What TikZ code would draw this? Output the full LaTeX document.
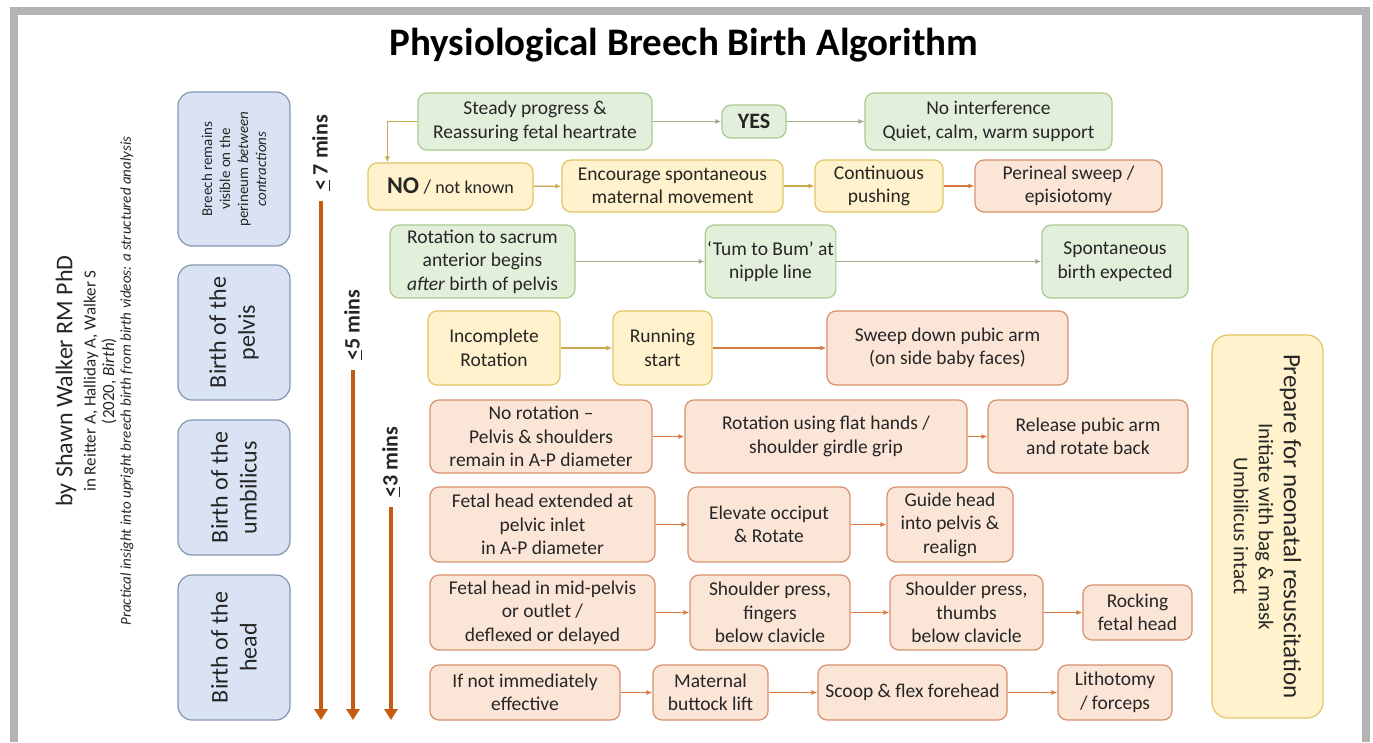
\documentclass[tikz,border=0pt]{standalone}
\usepackage{fontspec}
\setmainfont{Carlito}
\usetikzlibrary{arrows.meta}

\definecolor{txt}{HTML}{262626}
\definecolor{framecol}{HTML}{B3B3B3}
\definecolor{grnfill}{HTML}{E2EFDA}
\definecolor{grnline}{HTML}{A9CC8E}
\definecolor{ylwfill}{HTML}{FFF2CC}
\definecolor{ylwline}{HTML}{E3C466}
\definecolor{salfill}{HTML}{FBE5D6}
\definecolor{salline}{HTML}{D9906C}
\definecolor{blufill}{HTML}{DAE3F3}
\definecolor{bluline}{HTML}{8497B0}
\definecolor{grnarr}{HTML}{9DAF8A}
\definecolor{ylwarr}{HTML}{C9A94E}
\definecolor{salarr}{HTML}{D8793F}
\definecolor{timecol}{HTML}{C55A11}

\begin{document}
\begin{tikzpicture}[x=1pt,y=-1pt,
  box/.style={rectangle, rounded corners=9pt, draw, line width=1.2pt, inner sep=2pt, align=center, text=txt, font=\fontsize{19.5}{23.5}\selectfont},
  grn/.style={box, fill=grnfill, draw=grnline},
  ylw/.style={box, fill=ylwfill, draw=ylwline},
  sal/.style={box, fill=salfill, draw=salline},
  stage/.style={box, fill=blufill, draw=bluline, rotate=90, rounded corners=14pt, minimum height=112, font=\fontsize{24}{29}\selectfont},
  tlab/.style={rotate=90, text=txt, font=\fontsize{22}{26}\selectfont\bfseries},
  ga/.style={draw=grnarr, line width=1.2pt, -{Latex[length=6pt,width=5pt]}},
  ya/.style={draw=ylwarr, line width=1.2pt, -{Latex[length=6pt,width=5pt]}},
  sa/.style={draw=salarr, line width=1.2pt, -{Latex[length=6pt,width=5pt]}},
  tarr/.style={draw=timecol, line width=4pt, -{Triangle[length=11pt,width=13pt]}}]

  \useasboundingbox (0,0) rectangle (1373,742);
  \fill[white] (0,0) rectangle (1373,742);
  \draw[framecol, line width=8pt] (14,742) -- (14,11) -- (1366,11) -- (1366,742);

  \node[text=black, font=\fontsize{39}{45}\selectfont\bfseries] (title) at (684,45) {Physiological Breech Birth Algorithm};

  % author
  \node[rotate=90, text=txt, font=\fontsize{24}{28}\selectfont] (au1) at (66,381) {by Shawn Walker RM PhD};
  \node[rotate=90, text=txt, font=\fontsize{17}{20}\selectfont] (au2) at (91,381) {in Reitter A, Halliday A, Walker S};
  \node[rotate=90, text=txt, font=\fontsize{17}{20}\selectfont] (au3) at (109,381) {(2020, \textit{Birth})};
  \node[rotate=90, text=txt, font=\fontsize{15}{18}\selectfont\itshape] (au4) at (127,381) {Practical insight into upright breech birth from birth videos: a structured analysis};

  % stages
  \node[stage, minimum width=154, font=\fontsize{15}{18}\selectfont] (s1) at (234,169) {Breech remains\\visible on the\\perineum \textit{between}\\\textit{contractions}};
  \node[stage, minimum width=135] (s2) at (234,332.5) {Birth of the\\pelvis};
  \node[stage, minimum width=135] (s3) at (234,487.5) {Birth of the\\umbilicus};
  \node[stage, minimum width=145] (s4) at (234,647.5) {Birth of the\\head};

  % time limits
  \node[tlab] (t7) at (321,153) {\underline{<} 7 mins};
  \node[tlab] (t5) at (353,325) {\underline{<}5 mins};
  \node[tlab] (t3) at (391,462) {\underline{<}3 mins};
  \coordinate (e7) at (321,720);
  \coordinate (e5) at (353,720);
  \coordinate (e3) at (391,720);
  \draw[tarr] ([yshift=-6pt]t7.west) -- (e7);
  \draw[tarr] ([yshift=-6pt]t5.west) -- (e5);
  \draw[tarr] ([yshift=-6pt]t3.west) -- (e3);

  % row 1
  \node[grn, minimum width=234, minimum height=57] (steady) at (535,121.5) {Steady progress \&\\Reassuring fetal heartrate};
  \node[grn, minimum width=64, minimum height=33, font=\fontsize{22}{26}\selectfont\bfseries] (yes) at (754,121.5) {YES};
  \node[grn, minimum width=247, minimum height=57] (calm) at (988.5,121.5) {No interference\\Quiet, calm, warm support};

  % row 2
  \node[ylw, minimum width=165, minimum height=47] (no) at (450.5,186.5) {{\fontsize{24}{28}\selectfont\bfseries NO} / {\fontsize{18}{22}\selectfont not known}};
  \node[ylw, minimum width=221, minimum height=52] (encour) at (672.5,186) {Encourage spontaneous\\maternal movement};
  \node[ylw, minimum width=128, minimum height=52] (push) at (879,186) {Continuous\\pushing};
  \node[sal, minimum width=187, minimum height=52] (sweepper) at (1068.5,186) {Perineal sweep /\\episiotomy};

  % row 3
  \node[grn, minimum width=185, minimum height=73] (rotsac) at (482.5,261.5) {Rotation to sacrum\\anterior begins\\\textit{after} birth of pelvis};
  \node[grn, minimum width=129, minimum height=73] (tum) at (770.5,261.5) {`Tum to Bum' at\\nipple line};
  \node[grn, minimum width=146, minimum height=73] (spont) at (1115,261.5) {Spontaneous\\birth expected};

  % row 4
  \node[ylw, minimum width=132, minimum height=74] (incompl) at (494,348) {Incomplete\\Rotation};
  \node[ylw, minimum width=99, minimum height=74] (runstart) at (662.5,348) {Running\\start};
  \node[sal, minimum width=241, minimum height=74] (pubic) at (947.5,348) {Sweep down pubic arm\\(on side baby faces)};

  % row 5
  \node[sal, minimum width=222, minimum height=73] (norot) at (541,436.5) {No rotation --\\Pelvis \& shoulders\\remain in A-P diameter};
  \node[sal, minimum width=282, minimum height=73] (flat) at (826,436.5) {Rotation using flat hands /\\shoulder girdle grip};
  \node[sal, minimum width=200, minimum height=73] (release) at (1088,436.5) {Release pubic arm\\and rotate back};

  % row 6
  \node[sal, minimum width=225, minimum height=75] (ext) at (542.5,524.5) {Fetal head extended at\\pelvic inlet\\in A-P diameter};
  \node[sal, minimum width=162, minimum height=75] (elev) at (769,524.5) {Elevate occiput\\\& Rotate};
  \node[sal, minimum width=126, minimum height=75] (guide) at (950,524.5) {Guide head\\into pelvis \&\\realign};

  % row 7
  \node[sal, minimum width=225, minimum height=75] (midp) at (542.5,612.5) {Fetal head in mid-pelvis\\or outlet /\\deflexed or delayed};
  \node[sal, minimum width=160, minimum height=75] (fing) at (770,612.5) {Shoulder press,\\fingers\\below clavicle};
  \node[sal, minimum width=153, minimum height=75] (thumb) at (966.5,612.5) {Shoulder press,\\thumbs\\below clavicle};
  \node[sal, minimum width=109, minimum height=55] (rock) at (1137.5,612.5) {Rocking\\fetal head};

  % row 8
  \node[sal, minimum width=190, minimum height=55] (notimm) at (525,692.5) {If not immediately\\effective};
  \node[sal, minimum width=115, minimum height=55] (lift) at (710.5,692.5) {Maternal\\buttock lift};
  \node[sal, minimum width=189, minimum height=55] (scoop) at (912.5,692.5) {Scoop \& flex forehead};
  \node[sal, minimum width=114, minimum height=55] (litho) at (1115,692.5) {Lithotomy\\/ forceps};

  % resuscitation
  \node[ylw, rotate=-90, rounded corners=16pt, minimum width=383, minimum height=111, font=\fontsize{21}{25}\selectfont] (resus) at (1267.5,526.5) {{\fontsize{25}{29}\selectfont Prepare for neonatal resuscitation}\\Initiate with bag \& mask\\Umbilicus intact};

  \draw[ga] (steady) -- (yes);
  \draw[ga] (yes) -- (calm);
  \draw[draw=ylwarr, line width=1.2pt, -{Latex[length=6pt,width=5pt]}] (steady.west) -| ([xshift=20pt]no.north west);
  \draw[ya] (no) -- (encour);
  \draw[ya] (encour) -- (push);
  \draw[sa] (push) -- (sweepper);
  \draw[ga] (rotsac) -- (tum);
  \draw[ga] (tum) -- (spont);
  \draw[ya] (incompl) -- (runstart);
  \draw[sa] (runstart) -- (pubic);
  \draw[sa] (norot) -- (flat);
  \draw[sa] (flat) -- (release);
  \draw[sa] (ext) -- (elev);
  \draw[sa] (elev) -- (guide);
  \draw[sa] (midp) -- (fing);
  \draw[sa] (fing) -- (thumb);
  \draw[sa] (thumb) -- (rock);
  \draw[sa] (notimm) -- (lift);
  \draw[sa] (lift) -- (scoop);
  \draw[sa] (scoop) -- (litho);

\end{tikzpicture}
\end{document}
